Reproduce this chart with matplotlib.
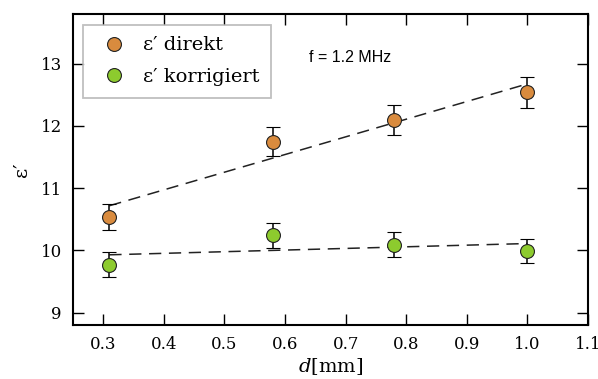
import matplotlib
matplotlib.use('Agg')
import matplotlib.pyplot as plt
import numpy as np

d = [0.31, 0.58, 0.78, 1.0]
eps_direkt = [10.54, 11.75, 12.10, 12.54]
err_direkt = [0.21, 0.23, 0.24, 0.25]
eps_korr = [9.77, 10.24, 10.09, 9.99]
err_korr = [0.20, 0.20, 0.20, 0.20]

plt.rcParams['font.family'] = ['DejaVu Serif']
plt.rcParams['mathtext.fontset'] = 'dejavuserif'

fig = plt.figure(figsize=(5.98, 3.79), dpi=100)
ax = fig.add_axes([73/598, 1 - 325/379, 515/598, 311/379])

x = np.array(d)
xs = np.linspace(x.min(), x.max(), 50)
for y, e, col, lab in [(eps_direkt, err_direkt, '#d98b3e', "ε′ direkt"),
                       (eps_korr, err_korr, '#8dcb2e', "ε′ korrigiert")]:
    p = np.polyfit(x, y, 1)
    ax.plot(xs, np.polyval(p, xs), '--', color='#222222', lw=1.1, dashes=(8, 5))
    ax.errorbar(x, y, yerr=e, fmt='o', color='black', mfc=col, mec='#222222',
                mew=0.8, ms=10, capsize=5, elinewidth=1.1, capthick=1.1,
                label=lab, zorder=3)

ax.set_xlim(0.25, 1.1)
ax.set_ylim(8.8, 13.8)
ax.set_xticks([0.3, 0.4, 0.5, 0.6, 0.7, 0.8, 0.9, 1.0, 1.1])
ax.set_xticklabels(['0.3', '0.4', '0.5', '0.6', '0.7', '0.8', '0.9', '1.0', '1.1'])
ax.set_yticks([9, 10, 11, 12, 13])
ax.tick_params(direction='in', length=8, width=1, top=True, right=True,
               labelsize=12, pad=8)
for s in ax.spines.values():
    s.set_linewidth(1.5)

ax.set_xlabel('$d$[mm]', fontsize=14, labelpad=2)
ax.set_ylabel('ε′', fontsize=14, labelpad=7)

ax.text(0.64, 13.1, 'f = 1.2 MHz', family='Liberation Sans', fontsize=11.5,
        va='center')

h, l = ax.get_legend_handles_labels()
h = [hh[0] for hh in h]
leg = ax.legend(h, l, loc='upper left', fontsize=14, frameon=True, fancybox=False,
                edgecolor='#b0b0b0', borderpad=0.6, handletextpad=0.5,
                bbox_to_anchor=(0.0, 0.997), labelspacing=0.7)
leg.get_frame().set_linewidth(1.3)

fig.savefig('out.png', dpi=100)
